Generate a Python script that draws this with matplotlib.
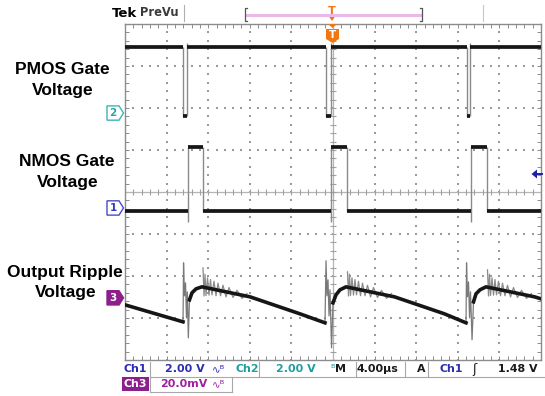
import numpy as np
import matplotlib
matplotlib.use("Agg")
import matplotlib.pyplot as plt
from matplotlib import transforms
from matplotlib.patches import Polygon, Rectangle

# ---------------- data ----------------
TIME_PER_DIV = 4.0          # µs / div
X_DIVS, Y_DIVS = 10, 8
# channel settings: position (div from centre) and scale
CH1_POS, CH1_SCALE = -0.38, 2.0    # NMOS gate, V/div
CH2_POS, CH2_SCALE = 1.88, 2.0     # PMOS gate, V/div
CH3_POS, CH3_SCALE = -2.52, 20.0   # output ripple, mV/div

# PMOS gate (Ch2), step waveform: change times (µs) and levels (V)
pmos_t = [-20.0, -14.45, -14.04, -0.67, -0.22, 12.88, 13.17, 20.0]
pmos_v = [3.14, -0.14, 3.14, -0.14, 3.14, -0.14, 3.14, 3.14]
pmos_overshoot_v = 3.33

# NMOS gate (Ch1)
nmos_t = [-20.0, -13.94, -12.47, -0.19, 1.32, 13.27, 14.84, 20.0]
nmos_v = [-0.14, 2.90, -0.14, 2.90, -0.14, 2.90, -0.14, -0.14]
nmos_glitch_v = -0.67

# Output ripple (Ch3) slow part, µs / mV (nan = break)
ripple_t = [-20.00, -14.42, np.nan, -13.80, -13.56, -13.17, -12.60, -7.98, -3.17, -0.77, np.nan,
            0.00, 0.29, 0.67, 1.25, 5.91, 10.72, 12.79, np.nan,
            13.51, 13.75, 14.13, 14.71, 19.38, 20.00]
ripple_mv = [-3.33, -11.43, np.nan, -0.95, 2.38, 4.29, 5.24, 0.48, -7.62, -11.90, np.nan,
             -2.38, 1.43, 3.81, 5.24, 0.48, -7.62, -11.90, np.nan,
             -1.90, 1.90, 3.81, 5.24, 0.48, -0.48]

# Output ripple fast part: switching spikes (µs / mV)
spike_t = [-14.42, -14.37, -14.28, -14.18, -14.09, -14.01, -13.91, -13.80, np.nan,
           -0.77, -0.67, -0.58, -0.48, -0.38, -0.29, -0.14, 0.00, np.nan,
           12.79, 12.84, 12.93, 13.03, 13.13, 13.22, 13.37, 13.51]
spike_mv = [-11.43, 16.67, 0.95, 7.14, -9.52, 2.86, -19.05, -0.95, np.nan,
            -11.90, 17.62, 0.95, 8.57, -8.57, 3.81, -23.81, -2.38, np.nan,
            -11.90, 16.67, 0.48, 7.62, -9.52, 2.86, -20.00, -1.90]

# Output ripple ringing after NMOS turn-off (µs / mV)
ring_t = [-12.500, -12.404, -12.308, -12.212, -12.067, -11.923, -11.779, -11.635, -11.442, -11.250,
          -11.058, -10.817, -10.577, -10.288, -10.000, -9.615, -9.231, -8.750, -8.269, np.nan,
          1.394, 1.490, 1.586, 1.682, 1.827, 1.971, 2.115, 2.259, 2.452, 2.644,
          2.836, 3.077, 3.317, 3.606, 3.894, 4.279, 4.663, 5.144, 5.625, np.nan,
          14.856, 14.952, 15.048, 15.144, 15.289, 15.433, 15.577, 15.721, 15.914, 16.106,
          16.298, 16.539, 16.779, 17.068, 17.356, 17.741, 18.125, 18.606, 19.087]
ring_mv = [14.29, 0.86, 11.24, 1.10, 9.52, 1.29, 8.71, 1.43, 7.90, 1.00,
           7.00, 1.00, 6.00, 0.43, 4.90, 0.19, 3.57, -0.29, 2.05, np.nan,
           12.38, 0.86, 11.24, 1.10, 9.52, 1.29, 8.71, 1.43, 7.90, 1.00,
           7.00, 1.00, 6.00, 0.43, 4.90, 0.19, 3.57, -0.29, 2.05, np.nan,
           13.33, 0.86, 11.24, 1.10, 9.52, 1.29, 8.71, 1.43, 7.90, 1.00,
           7.00, 1.00, 6.00, 0.43, 4.90, 0.19, 3.57, -0.29, 2.05]

labels = [("PMOS Gate", "Voltage"), ("NMOS Gate", "Voltage"), ("Output Ripple", "Voltage")]
status_row1 = ["Ch1", "2.00 V", "Ch2", "2.00 V", "M", "4.00µs", "A", "Ch1", "1.48 V"]
status_row2 = ["Ch3", "20.0mV"]

# ---------------- figure ----------------
W, H = 545, 396
fig = plt.figure(figsize=(W / 100, H / 100), dpi=100)
fig.patch.set_facecolor("white")

L, R, T, B = 125, 541, 24, 360
rect = [L / W, 1 - B / H, (R - L) / W, (B - T) / H]
half_t = X_DIVS / 2 * TIME_PER_DIV

ax = fig.add_axes(rect)
ax.set_xlim(-half_t, half_t)
ax.set_ylim(-Y_DIVS / 2, Y_DIVS / 2)
for s in ax.spines.values():
    s.set_color("#8c8c8c")
    s.set_linewidth(1.0)
minor_t = np.arange(-half_t, half_t + 1e-6, TIME_PER_DIV / 5)
minor_y = np.arange(-Y_DIVS / 2, Y_DIVS / 2 + 1e-6, 0.2)
ax.set_xticks(minor_t)
ax.set_yticks(minor_y)
ax.tick_params(direction="in", length=3, width=0.7, color="#8c8c8c",
               top=True, right=True, labelbottom=False, labelleft=False)
# graticule dots
gc = "#9a9a9a"
for k in range(-X_DIVS // 2 + 1, X_DIVS // 2):
    if k == 0:
        continue
    ax.scatter(np.full_like(minor_y, k * TIME_PER_DIV), minor_y, s=1.3, marker="s", color=gc, lw=0)
for j in range(-Y_DIVS // 2 + 1, Y_DIVS // 2):
    if j == 0:
        continue
    ax.scatter(minor_t, np.full_like(minor_t, j), s=1.3, marker="s", color=gc, lw=0)
# centre cross
ax.axhline(0, color="#b4b4b4", lw=0.9)
ax.axvline(0, color="#b4b4b4", lw=0.9)
ax.vlines(minor_t, -0.08, 0.08, color="#a0a0a0", lw=0.8)
ax.hlines(minor_y, -0.32, 0.32, color="#a0a0a0", lw=0.8)


def channel_axes(pos, scale):
    a = fig.add_axes(rect)
    a.set_xlim(-half_t, half_t)
    a.set_ylim((-Y_DIVS / 2 - pos) * scale, (Y_DIVS / 2 - pos) * scale)
    a.axis("off")
    a.patch.set_visible(False)
    return a


trace = "#161616"
edge = "#8a8a8a"

# Ch2 PMOS
a2 = channel_axes(CH2_POS, CH2_SCALE)
for i in range(1, len(pmos_t) - 1):
    hi = max(pmos_v[i - 1], pmos_v[i])
    lo = min(pmos_v[i - 1], pmos_v[i])
    if pmos_v[i] > pmos_v[i - 1]:
        hi = pmos_overshoot_v
    a2.vlines(pmos_t[i], lo, hi, color=edge, lw=1.0)
a2.hlines(pmos_v[:-1], pmos_t[:-1], pmos_t[1:], color=trace, lw=2.7)

# Ch1 NMOS
a1 = channel_axes(CH1_POS, CH1_SCALE)
for i in range(1, len(nmos_t) - 1):
    hi = max(nmos_v[i - 1], nmos_v[i])
    lo = min(nmos_v[i - 1], nmos_v[i])
    if nmos_v[i] > nmos_v[i - 1]:
        lo = nmos_glitch_v
    a1.vlines(nmos_t[i], lo, hi, color=edge, lw=1.0)
a1.hlines(nmos_v[:-1], nmos_t[:-1], nmos_t[1:], color=trace, lw=2.7)

# Ch3 ripple
a3 = channel_axes(CH3_POS, CH3_SCALE)
a3.plot(spike_t, spike_mv, color="#7a7a7a", lw=0.9)
a3.plot(ring_t, ring_mv, color="#8a8a8a", lw=0.9)
a3.plot(ripple_t, ripple_mv, color=trace, lw=2.6, solid_joinstyle="round")

# ---------------- overlay annotations (pixel coords) ----------------
ov = fig.add_axes([0, 0, 1, 1], zorder=5)
ov.set_xlim(0, W)
ov.set_ylim(H, 0)
ov.axis("off")
ov.patch.set_visible(False)

lab_font = dict(family="Liberation Sans", weight="bold", fontsize=12.5, color="black",
                ha="center", va="center")
lab_y = [(69, 90), (162, 182), (273, 293)]
lab_x = [62, 67, 65]
for (l1, l2), (y1, y2), x in zip(labels, lab_y, lab_x):
    ov.text(x, y1, l1, **lab_font)
    ov.text(x + 1, y2, l2, **lab_font)

# channel markers (x in pixels, y at channel ground level)
def marker(pos, txt, edgec, facec, txtc):
    tr = transforms.blended_transform_factory(ov.transData, ax.transData)
    hh = 0.17
    poly = Polygon([(107, pos - hh), (119, pos - hh), (123.5, pos), (119, pos + hh), (107, pos + hh)],
                   closed=True, transform=tr, facecolor=facec, edgecolor=edgec, lw=1.0, zorder=6,
                   clip_on=False)
    ov.add_patch(poly)
    ov.text(113, pos, txt, transform=tr, color=txtc, fontsize=7.5, weight="bold",
            ha="center", va="center", zorder=7, family="DejaVu Sans")

marker(CH2_POS, "2", "#3ab5b5", "white", "#2aa5a5")
marker(CH1_POS, "1", "#4a4ac8", "white", "#3a3ab8")
marker(CH3_POS, "3", "#8c1f8c", "#8c1f8c", "white")

# trigger level arrow
ov.add_patch(Polygon([(531.5, 174), (537, 169.5), (537, 178.5)], closed=True, color="#2020a0", lw=0))
ov.plot([536, 542], [174, 174], color="#2020a0", lw=1.4)

# top header
ov.text(112, 13.5, "Tek", fontsize=9.5, weight="bold", family="DejaVu Sans", va="center", ha="left")
ov.text(140, 12.5, "PreVu", fontsize=8.3, weight="bold", family="DejaVu Sans", color="#3a3a3a",
        va="center", ha="left")
ov.plot([184, 184], [5, 21], color="#b0b0b0", lw=0.8)
ov.plot([483, 483], [5, 21], color="#c8c8c8", lw=0.8)
ov.plot([247, 420], [15, 15], color="#ecb8ec", lw=2.2)
ov.plot([247, 245, 245, 247], [8, 8, 21, 21], color="#555555", lw=0.9)
ov.plot([420, 422, 422, 420], [8, 8, 21, 21], color="#555555", lw=0.9)
orange = "#f07814"
ov.text(332, 11, "T", color=orange, fontsize=8, weight="bold", ha="center", va="center", family="DejaVu Sans")
ov.add_patch(Polygon([(328.5, 16), (335.5, 16), (332, 21)], closed=True, color=orange, lw=0))
ov.add_patch(Polygon([(328, 24), (337, 24), (332.5, 28)], closed=True, color=orange, lw=0))
ov.add_patch(Polygon([(326, 29), (339, 29), (339, 39), (332.5, 43), (326, 39)], closed=True, color=orange, lw=0))
ov.text(332.5, 35.5, "T", color="white", fontsize=7.5, weight="bold", ha="center", va="center", family="DejaVu Sans")

# status bar
blue, teal, purple, dark = "#2c2cb0", "#1e9e9e", "#a01ea0", "#1a1a1a"
sf = dict(fontsize=7.9, weight="bold", family="DejaVu Sans", va="center", ha="left")
sym = dict(fontsize=7.5, family="DejaVu Sans", va="center", ha="left")
y1, y2 = 369, 384
ov.text(123, y1, status_row1[0], color=blue, **sf)
ov.text(165, y1, status_row1[1], color=blue, **sf)
ov.text(212, y1, "∿ᴮ", color=blue, **sym)
ov.text(235, y1, status_row1[2], color=teal, **sf)
ov.text(276, y1, status_row1[3], color=teal, **sf)
ov.text(330, y1, "ᴮ", color=teal, **sym)
ov.text(335, y1, status_row1[4], color=dark, **sf)
ov.text(357, y1, status_row1[5], color=dark, **sf)
ov.text(417, y1, status_row1[6], color=dark, **sf)
ov.text(439, y1, status_row1[7], color=blue, **sf)
ov.text(472, y1, "ʃ", color=dark, fontsize=9, family="DejaVu Sans", va="center", ha="left")
ov.text(498, y1, status_row1[8], color=dark, **sf)

ov.add_patch(Rectangle((122, 376.5), 27, 14, color="#8c1f8c", lw=0))
ov.text(123.5, y2, status_row2[0], color="white", **sf)
ov.text(160, y2, status_row2[1], color=purple, **sf)
ov.text(212, y2, "∿ᴮ", color=purple, **sym)

sep = "#a8a8a8"
for x in [150, 259, 356, 405, 428]:
    ov.plot([x, x], [362, 377], color=sep, lw=0.8)
ov.plot([150, 545], [377, 377], color=sep, lw=0.8)
ov.plot([150, 150], [377, 392], color=sep, lw=0.8)
ov.plot([232, 232], [377, 392], color=sep, lw=0.8)
ov.plot([150, 232], [392, 392], color=sep, lw=0.8)

fig.savefig("out.png", dpi=100, facecolor="white")
